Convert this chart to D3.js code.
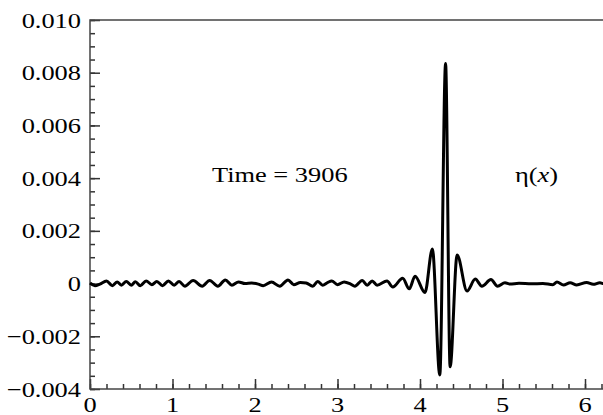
<!DOCTYPE html>
<html>
<head>
<meta charset="utf-8">
<script src="https://cdn.jsdelivr.net/npm/d3@7"></script>
<style>
  body { margin: 0; background: #fff; }
  svg { display: block; }
  text { font-family: "Liberation Serif", "Times New Roman", serif; fill: #000; }
</style>
</head>
<body>
<div id="chart"></div>
<script>
// wave elevation eta(x) at time 3906 (extrema)
var xs = [0.00, 0.06, 0.12, 0.20, 0.27, 0.33, 0.38, 0.44, 0.50, 0.55, 0.61, 0.68, 0.75, 0.81, 0.88, 0.95,
	1.02, 1.08, 1.15, 1.25, 1.36, 1.45, 1.55, 1.64, 1.72, 1.80, 1.88, 1.96, 2.04, 2.10, 2.20, 2.30,
	2.40, 2.47, 2.55, 2.62, 2.70, 2.76, 2.82, 2.88, 2.93, 3.00, 3.08, 3.16, 3.21, 3.30, 3.36, 3.42,
	3.48, 3.60, 3.67, 3.79, 3.87, 3.94, 4.06, 4.15, 4.24, 4.31, 4.365, 4.45, 4.57, 4.67, 4.75, 4.86,
	4.94, 5.03, 5.09, 5.20, 5.35, 5.49, 5.61, 5.66, 5.74, 5.82, 5.90, 6.02, 6.10, 6.18, 6.24, 6.283];
var etas = [0.00002, -0.00008, -0.00002, 0.00010, -0.00008, 0.00006, -0.00006, 0.00008, -0.00006, 0.00007, -0.00008, 0.00010, -0.00004, 0.00008, -0.00008, 0.00010,
	-0.00006, 0.00008, -0.00010, 0.00012, -0.00010, 0.00012, -0.00010, 0.00014, -0.00006, 0.00006, 0.00000, 0.00002, -0.00002, -0.00008, 0.00006, -0.00010,
	0.00014, -0.00004, 0.00004, 0.00002, -0.00010, 0.00008, -0.00006, 0.00004, 0.00010, -0.00004, 0.00006, -0.00002, -0.00010, 0.00012, -0.00006, 0.00010,
	-0.00006, 0.00010, -0.00013, 0.00020, -0.00020, 0.00028, -0.00034, 0.00131, -0.00347, 0.00835, -0.00316, 0.00108, -0.00028, 0.00017, -0.00010, 0.00015,
	-0.00010, 0.00003, -0.00002, 0.00001, -0.00001, 0.00000, -0.00004, 0.00006, -0.00005, 0.00003, -0.00005, 0.00004, -0.00003, 0.00003, -0.00001, 0.00001];

var xTicks = [0, 1, 2, 3, 4, 5, 6];
var xTickLabels = ['0', '1', '2', '3', '4', '5', '6'];
var yTicks = [0.010, 0.008, 0.006, 0.004, 0.002, 0, -0.002, -0.004];
var yTickLabels = ['0.010', '0.008', '0.006', '0.004', '0.002', '0', '\u22120.002', '\u22120.004'];
var timeLabel = 'Time = 3906';

var cfg = {
	w: 603, h: 415,
	left: 90, top: 20, bottom: 389,
	unit: 82.5,
	fontSize: 22,
	stretch: 1.2
};

var x = d3.scaleLinear().domain([0, 2 * Math.PI]).range([cfg.left, cfg.left + 2 * Math.PI * cfg.unit]);
var y = d3.scaleLinear().domain([-0.004, 0.010]).range([cfg.bottom, cfg.top]);

var svg = d3.select('#chart').append('svg')
	.attr('width', cfg.w)
	.attr('height', cfg.h);

// stretched serif text, anchored at (px, py)
function label(px, py, str, anchor) {
	var t = svg.append('g')
		.attr('transform', 'translate(' + px + ',' + py + ') scale(' + cfg.stretch + ',1)')
		.append('text')
		.style('font-size', cfg.fontSize + 'px')
		.attr('text-anchor', anchor || 'start');
	return t.text(str);
}

// axes, ticks pointing inward
var gx = svg.append('g').attr('transform', 'translate(0,' + cfg.bottom + ')');
gx.call(d3.axisBottom(x).tickValues(d3.range(0, 6.3, 0.2)).tickSize(-5).tickSizeOuter(0).tickFormat(''));
gx.call(function(g) {
	g.append('g').call(d3.axisBottom(x).tickValues(xTicks).tickSize(-10).tickSizeOuter(0).tickFormat(''));
});
var gy = svg.append('g').attr('transform', 'translate(' + cfg.left + ',0)');
gy.call(d3.axisLeft(y).tickValues(d3.range(-0.004, 0.01001, 0.0005)).tickSize(-5).tickSizeOuter(0).tickFormat(''));
gy.call(function(g) {
	g.append('g').call(d3.axisLeft(y).tickValues(yTicks).tickSize(-10).tickSizeOuter(0).tickFormat(''));
});
svg.selectAll('.domain').remove();
svg.selectAll('.tick line').attr('stroke', '#333').attr('stroke-width', 1.5);

// frame
svg.append('rect')
	.attr('x', x(0))
	.attr('y', y(0.010))
	.attr('width', x(2 * Math.PI) - x(0))
	.attr('height', y(-0.004) - y(0.010))
	.attr('fill', 'none')
	.attr('stroke', '#444')
	.attr('stroke-width', 1.5);

// curve
var pts = xs.map(function(d, i) { return [d, etas[i]]; });
var line = d3.line()
	.x(function(d) { return x(d[0]); })
	.y(function(d) { return y(d[1]); })
	.curve(d3.curveMonotoneX);
svg.append('path')
	.datum(pts)
	.attr('d', line)
	.attr('fill', 'none')
	.attr('stroke', '#000')
	.attr('stroke-width', 3)
	.attr('stroke-linejoin', 'round');

// tick labels
yTicks.forEach(function(v, i) {
	label(cfg.left - 9, y(v) + 7.5, yTickLabels[i], 'end');
});
xTicks.forEach(function(v, i) {
	label(x(v), cfg.bottom + 23, xTickLabels[i], 'middle');
});

// annotations
label(212, 182, timeLabel, 'start');
var eta = label(515, 182, '\u03b7(', 'start');
eta.append('tspan').style('font-style', 'italic').text('x');
eta.append('tspan').text(')');
</script>
</body>
</html>
